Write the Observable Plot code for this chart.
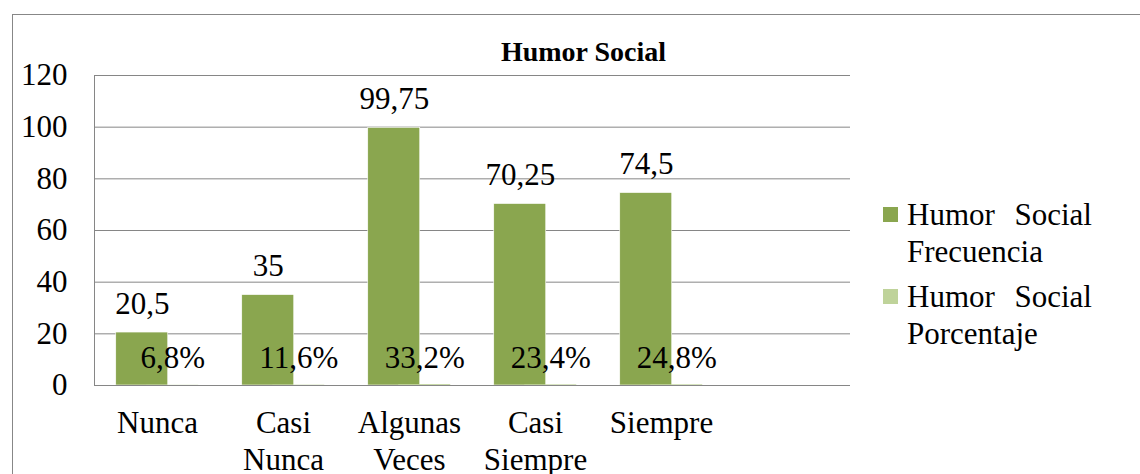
<!DOCTYPE html>
<html>
<head>
<meta charset="utf-8">
<script src="https://cdn.jsdelivr.net/npm/d3@7"></script>
<script src="https://cdn.jsdelivr.net/npm/@observablehq/plot@0.6"></script>
<style>
  body { margin: 0; background: #fff; }
  #wrap { position: relative; width: 1140px; height: 474px; overflow: hidden; background: #fff;
          font-family: 'Liberation Serif', 'Times New Roman', serif; color: #000; }
  #frame { position: absolute; left: 12px; top: 14px; width: 1200px; height: 600px;
           border-left: 1px solid #878787; border-top: 1px solid #878787; }
  #plot { position: absolute; left: 0; top: 0; }
  #title { position: absolute; left: 383.5px; top: 38px; width: 400px; text-align: center;
           font-weight: bold; font-size: 28px; line-height: 28px; }
  .leg { position: absolute; left: 883px; font-size: 31px; line-height: 37px; }
  .leg .sw { position: absolute; left: 0; top: 11px; width: 15px; height: 15px; }
  .leg .txt { position: absolute; left: 24px; top: 0; width: 185px; }
  .leg .l1 { display: flex; justify-content: space-between; white-space: nowrap; }
  .leg .l2 { white-space: nowrap; }
</style>
</head>
<body>
<div id="wrap">
  <div id="frame"></div>
  <div id="plot"></div>
  <div id="title"></div>
  <div id="legend"></div>
</div>
<script>
const chartTitle = "Humor Social";
const categories = ["Nunca", "Casi\nNunca", "Algunas\nVeces", "Casi\nSiempre", "Siempre"];
const frecuencia = [20.5, 35, 99.75, 70.25, 74.5];
const porcentaje = [0.068, 0.116, 0.332, 0.234, 0.248];
const yTicks = [0, 20, 40, 60, 80, 100, 120];
const seriesNames = [["Humor", "Social", "Frecuencia"], ["Humor", "Social", "Porcentaje"]];
const seriesColors = ["#8AA64F", "#BFD39A"];

const rows = categories.map((c, i) => ({cat: c, frec: frecuencia[i], pct: porcentaje[i]}));
const fmtNum = v => String(v).replace(".", ",");
const fmtPct = v => (v * 100).toFixed(1).replace(".", ",") + "%";
const grid = "#868686";
const serif = "'Liberation Serif', 'Times New Roman', serif";

const chart = Plot.plot({
  width: 1140,
  height: 474,
  marginLeft: 94,
  marginRight: 290,
  marginTop: 75,
  marginBottom: 89,
  x: {domain: [...categories, " "], padding: 0, axis: null},
  y: {domain: [0, 120], axis: null},
  style: {fontFamily: serif, fontSize: "31px", background: "transparent", color: "#000"},
  marks: [
    Plot.gridY(yTicks, {stroke: grid, strokeOpacity: 1, strokeWidth: 1}),
    Plot.frame({anchor: "left", stroke: grid, strokeWidth: 1}),
    Plot.barY(rows, {x: "cat", y: "frec", fill: seriesColors[0], stroke: "#ffffff", strokeWidth: 0.6, insetLeft: 21.75, insetRight: 52.25}),
    Plot.barY(rows, {x: "cat", y: "pct", fill: seriesColors[1], insetLeft: 52.25, insetRight: 21.75}),
    Plot.ruleY([0], {stroke: grid, strokeWidth: 1}),
    Plot.text(rows, {x: "cat", y: "frec", text: d => fmtNum(d.frec), dx: -15.25, dy: -19, lineAnchor: "bottom", fill: "#000", fontSize: 31, fontFamily: serif}),
    Plot.text(rows, {x: "cat", y: "pct", text: d => fmtPct(d.pct), dx: 15.25, dy: -17, lineAnchor: "bottom", fill: "#000", fontSize: 31, fontFamily: serif}),
    Plot.axisY({ticks: yTicks, tickSize: 0, tickPadding: 27, fontSize: 31, fontFamily: serif, fill: "#000", label: null, tickFormat: d => String(d)}),
    Plot.axisX({tickSize: 0, tickPadding: 21, fontSize: 31, fontFamily: serif, lineHeight: 1.2, fill: "#000", label: null, tickFormat: d => d})
  ]
});
document.getElementById("plot").appendChild(chart);
document.getElementById("title").textContent = chartTitle;

const legend = document.getElementById("legend");
const tops = [196, 278];
seriesNames.forEach((n, i) => {
  const d = document.createElement("div");
  d.className = "leg";
  d.style.top = tops[i] + "px";
  d.innerHTML = `<div class="sw" style="background:${seriesColors[i]}"></div>
    <div class="txt"><div class="l1"><span>${n[0]}</span><span>${n[1]}</span></div><div class="l2">${n[2]}</div></div>`;
  legend.appendChild(d);
});
</script>
</body>
</html>
